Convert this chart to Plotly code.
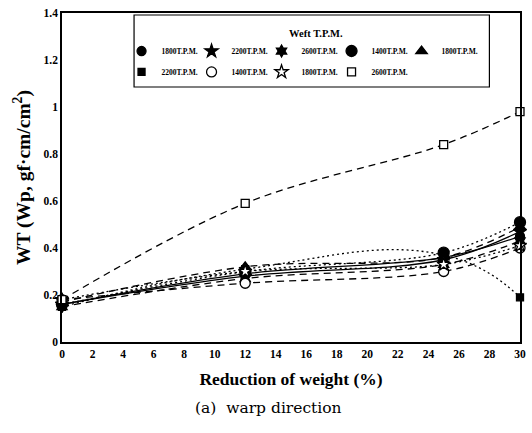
import plotly.graph_objects as go

# ---- data ----
reduction = [0, 12, 25, 30]
labels = ["1800T.P.M.", "2200T.P.M.", "2600T.P.M.", "1400T.P.M.", "1800T.P.M.",
          "2200T.P.M.", "1400T.P.M.", "1800T.P.M.", "2600T.P.M."]
wt_a_1800 = [0.16, 0.29, 0.36, 0.45]
wt_a_2200 = [0.16, 0.28, 0.35, 0.47]
wt_a_2600 = [0.15, 0.27, 0.33, 0.43]
wt_b_1400 = [0.16, 0.30, 0.38, 0.51]
wt_b_1800 = [0.17, 0.32, 0.36, 0.49]
wt_b_2200 = [0.15, 0.31, 0.37, 0.19]
wt_c_1400 = [0.18, 0.25, 0.30, 0.40]
wt_c_1800 = [0.18, 0.30, 0.33, 0.41]
wt_c_2600 = [0.18, 0.59, 0.84, 0.98]
series = [wt_a_1800, wt_a_2200, wt_a_2600, wt_b_1400, wt_b_1800,
          wt_b_2200, wt_c_1400, wt_c_1800, wt_c_2600]

# ---- styles ----
dashes = ["solid", "solid", "7px,5px", "2px,3px", "7px,5px", "2px,3px",
          "7px,5px", "2px,3px", "7px,5px"]
smooth = [1.0, 1.0, 1.0, 1.0, 1.0, 1.3, 1.0, 1.0, 1.0]
symbols = ["circle", "star", "hexagram", "circle", "triangle-up",
           "square", "circle", "star", "square"]
sizes = [9, 10, 9, 11, 10, 7, 10, 10, 8]
fills = ["black", "black", "black", "black", "black", "black", "white", "white", "white"]
legend_ids = ["legend"] * 5 + ["legend2"] * 4
entry_w = [25, 25, 25, 25, 64, 25, 25, 25, 45]

SERIF = "Liberation Serif"
fig = go.Figure()

for y, d, sm in zip(series, dashes, smooth):
    fig.add_trace(go.Scatter(x=reduction, y=y, mode="lines",
                             line=dict(color="black", width=1.3, dash=d,
                                       shape="spline", smoothing=sm),
                             showlegend=False, hoverinfo="skip", cliponaxis=False))

for y, lab, s, sz, f, lg, ew in zip(series, labels, symbols, sizes, fills,
                                     legend_ids, entry_w):
    fig.add_trace(go.Scatter(x=reduction, y=y, mode="markers", name=lab,
                             marker=dict(symbol=s, size=sz, color=f,
                                         line=dict(color="black", width=1.3)),
                             legend=lg, legendwidth=ew, cliponaxis=False))

fig.update_layout(
    width=532, height=433,
    margin=dict(l=62, r=6, t=13, b=91),
    paper_bgcolor="white", plot_bgcolor="white",
    font=dict(family=SERIF, color="black"),
    showlegend=True,
    legend=dict(orientation="h", x=0.13, y=0.97, xanchor="left", yanchor="top",
                entrywidthmode="pixels",
                title=dict(text="Weft T.P.M.", side="top center",
                           font=dict(family=SERIF, size=10.5, weight="bold")),
                font=dict(family=SERIF, size=7.5, weight="bold"),
                bgcolor="rgba(0,0,0,0)", borderwidth=0),
    legend2=dict(orientation="h", x=0.13, y=0.865, xanchor="left", yanchor="top",
                 entrywidthmode="pixels",
                 font=dict(family=SERIF, size=7.5, weight="bold"),
                 bgcolor="rgba(0,0,0,0)", borderwidth=0),
    shapes=[dict(type="rect", xref="paper", yref="paper",
                 x0=(135 - 62) / 464, x1=(495 - 62) / 464,
                 y0=1 - (87 - 13) / 329, y1=1 - (15 - 13) / 329,
                 line=dict(color="black", width=1.2), fillcolor="rgba(0,0,0,0)")],
    xaxis=dict(range=[0, 30], dtick=2, tick0=0, showgrid=False, zeroline=False,
               showline=True, linecolor="black", linewidth=1.5, mirror=True,
               ticks="", tickfont=dict(family=SERIF, size=11.5, weight="bold"),
               title=dict(text="Reduction of weight (%)", standoff=14,
                          font=dict(family=SERIF, size=17.5, weight="bold"))),
    yaxis=dict(range=[0, 1.4], dtick=0.2, tick0=0, showgrid=False, zeroline=False,
               showline=True, linecolor="black", linewidth=1.5, mirror=True,
               ticks="", tickfont=dict(family=SERIF, size=11.5, weight="bold"),
               title=dict(text="WT (Wp, gf\u00b7cm/cm<sup>2</sup>)", standoff=8,
                          font=dict(family=SERIF, size=19.5, weight="bold"))),
    annotations=[dict(text="(a)  warp direction", xref="paper", yref="paper",
                      x=(271 - 62) / 464, y=(342 - 408) / 329,
                      xanchor="center", yanchor="middle", showarrow=False,
                      font=dict(family="DejaVu Serif", size=15.5, color="black"))],
)

fig.write_html("out.html")
